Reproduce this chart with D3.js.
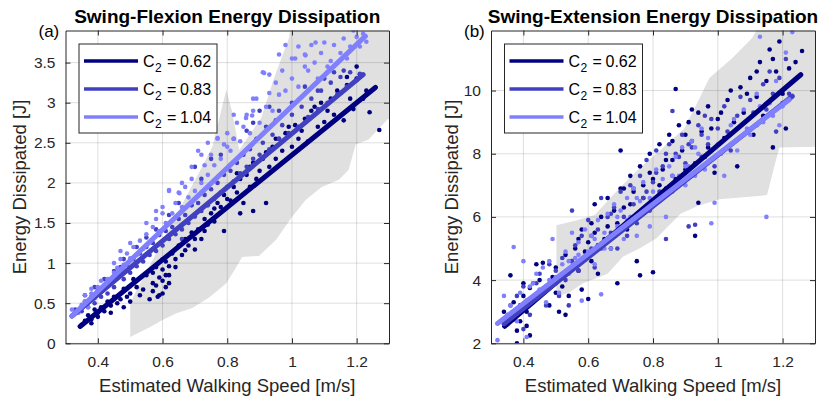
<!DOCTYPE html>
<html>
<head>
<meta charset="utf-8">
<script src="https://cdn.jsdelivr.net/npm/d3@7"></script>
<style>
  body { margin: 0; background: #fff; }
  svg { font-family: "Liberation Sans", Arial, Helvetica, sans-serif; }
</style>
</head>
<body>
<svg id="chart" width="818" height="398"></svg>
<script>

const legendValues = ["0.62", "0.83", "1.04"];
const seriesColors = ["#000080", "#4040c0", "#8080ff"];
const xDomain = [0.3, 1.3];
const xTicks = [0.4, 0.6, 0.8, 1, 1.2];
const flexDomain = [0, 3.9];
const flexTicks = [0, 0.5, 1, 1.5, 2, 2.5, 3, 3.5];
const extDomain = [2, 11.9];
const extTicks = [2, 4, 6, 8, 10];

// grey spread region, [speed, energy]
const flexBand = [[0.50,0.08],[0.50,0.51],[0.668,1.79],[0.714,2.14],[0.754,2.45],[0.797,3.16],[0.815,2.89],[0.837,2.41],[0.905,2.81],[0.945,3.31],[0.991,3.81],[1.006,4.2],[1.35,4.2],[1.35,2.85],[1.295,2.79],[1.237,2.54],[1.197,2.48],[1.175,2.16],[1.145,2.04],[1.092,1.95],[1.043,1.79],[1.0,1.575],[0.951,1.29],[0.898,1.09],[0.846,1.075],[0.822,0.91],[0.797,0.75],[0.745,0.575],[0.692,0.44],[0.643,0.375],[0.60,0.29],[0.56,0.20]];
const extBand = [[0.502,3.47],[0.502,5.74],[0.568,5.90],[0.62,6.06],[0.66,6.5],[0.70,6.95],[0.762,7.58],[0.823,8.12],[0.897,8.81],[0.944,9.76],[0.974,10.4],[1.045,11.03],[1.106,11.66],[1.14,12.3],[1.35,12.3],[1.35,8.23],[1.19,8.2],[1.174,7.58],[1.152,6.69],[1.005,6.56],[0.94,6.35],[0.885,6.1],[0.81,5.32],[0.758,5.0],[0.707,4.74],[0.66,4.2],[0.584,3.9],[0.54,3.6]];

// fitted lines, [start, end]
const flexFitDark = [[0.345,0.21],[1.258,3.19]];
const flexFitMid = [[0.32,0.34],[1.22,3.35]];
const flexFitLight = [[0.32,0.34],[1.227,3.83]];
const extFitDark = [[0.342,2.54],[1.256,10.5]];
const extFitMid = [[0.34,2.62],[1.23,9.82]];
const extFitLight = [[0.32,2.63],[1.22,9.71]];

// scatter points, [speed, energy]
const flexDark = [[0.35,0.23],[0.36,0.28],[0.37,0.35],[0.38,0.30],[0.39,0.42],[0.40,0.33],[0.41,0.45],[0.42,0.40],[0.43,0.52],[0.44,0.47],[0.45,0.58],[0.46,0.50],[0.47,0.55],[0.48,0.68],[0.49,0.58],[0.50,0.62],[0.51,0.80],[0.52,0.70],[0.53,0.60],[0.54,0.67],[0.55,0.85],[0.56,0.55],[0.57,0.65],[0.57,0.88],[0.58,0.72],[0.58,0.95],[0.59,0.60],[0.59,0.82],[0.60,0.78],[0.60,0.92],[0.61,0.70],[0.61,1.02],[0.62,0.85],[0.62,0.96],[0.63,1.12],[0.64,1.05],[0.65,1.22],[0.66,1.10],[0.67,1.16],[0.67,1.30],[0.68,1.22],[0.69,1.38],[0.70,1.17],[0.71,1.42],[0.72,1.30],[0.73,1.55],[0.74,1.48],[0.75,1.62],[0.76,1.52],[0.77,1.75],[0.78,1.70],[0.79,1.40],[0.79,1.85],[0.81,1.78],[0.82,1.95],[0.83,1.88],[0.84,1.62],[0.84,2.05],[0.85,1.75],[0.86,2.10],[0.87,1.95],[0.88,1.65],[0.88,2.25],[0.90,2.15],[0.91,2.30],[0.92,1.75],[0.93,2.20],[0.94,2.45],[0.95,2.30],[0.96,2.55],[0.97,2.40],[0.98,2.62],[1.00,2.45],[1.01,2.72],[1.02,2.55],[1.04,2.80],[1.05,2.52],[1.06,2.90],[1.08,2.70],[1.09,3.00],[1.10,2.76],[1.12,3.05],[1.13,2.85],[1.15,3.12],[1.16,2.78],[1.17,3.22],[1.19,2.92],[1.20,3.30],[1.22,3.05],[1.24,2.88],[1.27,2.66],
  [0.60,0.62],[0.61,0.85],[0.62,0.75],[0.585,0.58],[0.57,0.75],[0.50,0.52],[0.48,0.45],[0.44,0.38],[0.40,0.38],[0.38,0.25],[0.64,0.95],[0.70,1.30],[0.73,1.40],[0.76,1.68],[0.80,1.80],[0.83,2.12],[0.87,2.20],[0.89,2.05],[0.92,2.38],[0.95,2.55],[0.99,2.70],[1.03,2.65],[1.07,2.95],[1.11,2.90],[1.14,3.15],[1.18,3.05],[1.21,3.35],[1.23,3.15],[1.20,3.45],[1.17,3.32]];
const flexMid = [[0.33,0.42],[0.35,0.40],[0.36,0.52],[0.37,0.45],[0.38,0.58],[0.39,0.50],[0.40,0.66],[0.41,0.58],[0.42,0.72],[0.43,0.62],[0.44,0.78],[0.45,0.70],[0.46,0.86],[0.47,0.95],[0.48,0.80],[0.49,0.98],[0.50,0.88],[0.51,1.05],[0.52,0.96],[0.53,1.12],[0.54,1.02],[0.55,1.20],[0.56,1.10],[0.57,1.25],[0.58,1.15],[0.59,1.35],[0.60,1.22],[0.61,1.40],[0.62,1.30],[0.63,1.45],[0.64,1.36],[0.65,1.55],[0.66,1.42],[0.67,1.60],[0.68,1.50],[0.69,1.72],[0.70,1.58],[0.71,1.75],[0.72,1.65],[0.73,1.85],[0.74,1.72],[0.75,1.92],[0.76,1.80],[0.77,2.00],[0.78,1.88],[0.79,2.10],[0.80,1.95],[0.81,2.15],[0.82,2.02],[0.83,2.25],[0.84,2.12],[0.85,2.35],[0.86,2.20],[0.87,2.42],[0.88,2.30],[0.89,2.55],[0.90,2.35],[0.91,2.50],[0.92,2.70],[0.93,2.42],[0.94,2.60],[0.95,2.78],[0.96,2.55],[0.97,2.72],[0.99,2.62],[1.00,2.85],[1.02,2.70],[1.03,2.95],[1.05,2.82],[1.06,3.05],[1.08,2.92],[1.09,3.15],[1.11,3.00],[1.12,3.25],[1.14,3.10],[1.15,3.32],[1.17,3.20],[1.18,3.38],[1.20,3.28],[1.21,3.36],
  [0.70,2.20],[0.72,2.05],[0.75,2.30],[0.78,2.35],[0.82,2.55],[0.86,2.65],[0.88,2.75],[0.90,2.90],[0.93,2.95],[0.96,2.90],[1.00,3.00],[1.04,3.20],[1.08,3.15],[1.10,3.30],[1.13,3.38],[1.16,3.40],[0.65,1.75],[0.62,1.60],[0.58,1.42],[0.55,1.32],[0.52,1.20],[0.48,1.05],[0.45,0.90],[0.42,0.80],[0.39,0.70],[0.36,0.60],[0.60,1.05],[0.66,1.30],[0.74,1.50]];
const flexLight = [[0.32,0.42],[0.34,0.38],[0.35,0.48],[0.36,0.52],[0.37,0.45],[0.38,0.62],[0.39,0.56],[0.40,0.70],[0.41,0.64],[0.42,0.72],[0.43,0.80],[0.44,0.74],[0.45,0.88],[0.46,0.94],[0.47,1.05],[0.48,0.98],[0.49,1.12],[0.50,1.06],[0.51,1.20],[0.52,1.10],[0.53,1.28],[0.54,1.18],[0.55,1.36],[0.56,1.26],[0.57,1.45],[0.58,1.55],[0.59,1.40],[0.60,1.62],[0.61,1.50],[0.62,1.90],[0.63,1.62],[0.64,1.75],[0.65,1.88],[0.66,1.70],[0.67,1.95],[0.68,1.82],[0.69,2.05],[0.70,1.90],[0.71,2.40],[0.72,2.00],[0.73,2.22],[0.74,2.10],[0.75,2.35],[0.76,2.22],[0.77,2.55],[0.78,2.30],[0.79,2.48],[0.80,2.62],[0.81,2.40],[0.82,2.55],[0.83,2.75],[0.84,2.52],[0.85,2.70],[0.86,2.85],[0.87,2.62],[0.88,2.90],[0.89,3.05],[0.90,2.75],[0.91,3.38],[0.92,2.95],[0.93,3.12],[0.94,2.90],[0.95,3.25],[0.96,3.10],[0.97,3.40],[0.98,3.15],[1.00,3.30],[1.01,3.55],[1.02,3.20],[1.04,3.60],[1.05,3.40],[1.06,3.72],[1.07,3.50],[1.09,3.62],[1.10,3.75],[1.11,3.45],[1.13,3.72],[1.15,3.62],[1.16,3.80],[1.18,3.70],[1.20,3.82],[1.22,3.86],[1.23,3.76],
  [0.914,3.37],[1.073,3.75],[1.042,3.59],[0.877,2.84],[0.62,1.91],[0.652,1.87],[0.77,2.56],[0.858,2.81],[0.96,3.60],[0.98,3.72],[1.00,3.55],[1.02,3.70],[1.04,3.45],[0.93,3.35],[0.88,3.05],[0.82,2.85],[0.80,2.45],[0.74,2.50],[0.72,2.35],[0.69,2.20],[0.66,2.00],[0.60,1.70],[0.58,1.65],[0.55,1.50],[0.50,1.25],[0.47,1.15],[0.45,1.00],[0.41,0.78],[0.38,0.68],[0.36,0.60],[1.08,3.30],[1.12,3.52],[1.17,3.55],[1.19,3.90],[1.21,3.70]];

const extDark = [[0.34,3.0],[0.35,2.6],[0.36,4.15],[0.37,3.3],[0.37,2.9],[0.38,2.4],[0.38,2.0],[0.39,3.2],[0.39,2.7],[0.40,3.9],[0.40,3.5],[0.41,2.55],[0.41,3.0],[0.42,3.75],[0.42,2.25],[0.43,3.3],[0.44,4.5],[0.45,3.5],[0.46,4.55],[0.47,3.8],[0.48,3.2],[0.49,4.1],[0.50,3.6],[0.50,4.4],[0.51,3.0],[0.52,4.2],[0.53,2.9],[0.53,4.8],[0.54,3.5],[0.55,4.6],[0.56,5.0],[0.57,4.3],[0.58,5.6],[0.58,3.7],[0.59,4.9],[0.60,3.4],[0.60,5.2],[0.61,4.6],[0.62,6.4],[0.62,5.5],[0.63,4.2],[0.64,6.0],[0.65,5.3],[0.66,6.6],[0.67,5.0],[0.68,6.2],[0.69,3.9],[0.69,5.8],[0.70,8.1],[0.70,6.9],[0.71,6.3],[0.72,5.6],[0.73,7.3],[0.74,6.8],[0.75,4.6],[0.75,6.0],[0.76,7.6],[0.76,4.15],[0.77,7.0],[0.78,6.3],[0.79,8.0],[0.80,4.25],[0.80,7.2],[0.81,6.6],[0.82,8.3],[0.83,7.5],[0.84,6.9],[0.85,8.6],[0.86,7.8],[0.87,10.05],[0.87,7.2],[0.88,8.9],[0.89,8.1],[0.90,7.5],[0.91,9.0],[0.92,8.4],[0.93,7.7],[0.94,6.45],[0.94,9.3],[0.95,8.7],[0.96,7.9],[0.97,9.5],[0.98,8.8],[0.99,7.4],[1.00,9.1],[0.93,5.4],[1.02,8.5],[1.03,9.7],[1.05,9.0],[1.06,7.6],[1.07,10.1],[1.08,9.3],[1.10,10.4],[1.11,8.6],[1.12,9.8],[1.13,10.9],[1.14,9.2],[1.15,10.3],[1.16,11.3],[1.17,8.2],[1.18,10.6],[1.19,11.55],[1.20,9.9],[1.21,8.8],[1.22,10.7],[1.24,10.9],[1.26,11.25],
  [0.45,4.0],[0.52,3.8],[0.57,5.3],[0.61,5.8],[0.63,5.1],[0.66,5.7],[0.68,5.4],[0.71,6.9],[0.73,6.4],[0.77,6.6],[0.79,7.4],[0.82,7.0],[0.84,7.8],[0.86,8.4],[0.90,8.6],[0.92,9.4],[0.97,8.2],[1.01,9.3],[1.04,10.0],[1.09,9.9],[1.12,10.6],[1.17,11.0]];
const extMid = [[0.35,2.85],[0.36,3.2],[0.37,2.75],[0.38,3.5],[0.39,3.0],[0.40,3.8],[0.40,2.45],[0.41,3.35],[0.42,2.9],[0.43,3.9],[0.44,3.4],[0.45,4.2],[0.46,3.7],[0.47,3.2],[0.48,4.5],[0.49,3.9],[0.50,4.3],[0.51,3.5],[0.52,4.7],[0.53,4.0],[0.54,3.2],[0.55,6.2],[0.55,4.6],[0.56,5.1],[0.57,4.3],[0.58,5.4],[0.59,4.7],[0.60,5.9],[0.61,5.0],[0.62,4.4],[0.63,5.6],[0.64,6.6],[0.65,5.2],[0.66,6.0],[0.67,5.5],[0.68,6.3],[0.69,5.0],[0.70,6.8],[0.71,6.0],[0.72,5.4],[0.73,7.0],[0.74,6.4],[0.75,5.8],[0.76,7.3],[0.77,6.6],[0.78,7.8],[0.79,6.2],[0.80,7.1],[0.81,8.1],[0.82,6.8],[0.83,7.6],[0.84,5.3],[0.85,8.3],[0.86,9.35],[0.86,7.3],[0.87,8.0],[0.88,7.0],[0.89,8.6],[0.90,7.7],[0.91,5.7],[0.92,8.2],[0.93,5.75],[0.94,8.9],[0.95,7.9],[0.96,9.2],[0.97,8.3],[0.99,7.6],[1.00,8.8],[1.02,9.5],[1.04,8.1],[1.06,9.2],[1.08,8.6],[1.10,9.7],[1.12,8.9],[1.14,10.2],[1.15,9.4],[1.17,9.9],[1.18,8.7],[1.19,10.4],[1.20,9.6],[1.21,11.0],[1.22,9.9],
  [0.44,3.9],[0.50,3.9],[0.56,4.5],[0.61,5.4],[0.64,5.0],[0.67,6.1],[0.70,5.6],[0.74,6.9],[0.78,6.8],[0.81,7.4],[0.84,8.0],[0.88,7.9],[0.91,8.3],[0.95,8.6],[0.98,9.1],[1.03,8.7],[1.07,9.8],[1.11,9.3],[1.16,10.6]];
const extLight = [[0.32,2.1],[0.34,3.5],[0.35,2.9],[0.36,3.2],[0.37,5.05],[0.38,2.7],[0.39,3.6],[0.40,4.6],[0.40,3.1],[0.41,2.2],[0.42,3.8],[0.43,3.4],[0.44,4.2],[0.45,3.7],[0.46,4.4],[0.47,3.3],[0.48,4.6],[0.49,5.3],[0.50,4.1],[0.51,3.6],[0.52,4.5],[0.53,4.9],[0.54,4.2],[0.55,5.5],[0.56,4.7],[0.57,5.2],[0.58,3.35],[0.59,5.6],[0.60,4.9],[0.61,5.4],[0.62,4.5],[0.63,5.9],[0.64,3.55],[0.65,5.5],[0.66,6.1],[0.67,5.0],[0.68,6.4],[0.69,5.7],[0.70,6.2],[0.71,5.3],[0.72,6.6],[0.73,6.0],[0.74,6.9],[0.75,5.4],[0.76,6.5],[0.77,7.1],[0.78,6.2],[0.79,5.7],[0.80,6.8],[0.81,7.5],[0.82,6.5],[0.83,7.2],[0.84,6.0],[0.85,7.6],[0.86,6.8],[0.87,7.9],[0.88,7.3],[0.89,8.2],[0.90,7.0],[0.91,7.6],[0.92,8.4],[0.93,7.3],[0.94,8.0],[0.95,8.8],[0.96,7.5],[0.98,5.8],[0.99,6.45],[1.00,8.3],[1.02,7.3],[1.04,8.9],[1.06,8.1],[1.08,9.4],[1.10,8.6],[1.12,9.9],[1.14,9.0],[1.15,6.0],[1.16,9.6],[1.18,10.3],[1.19,8.9],[1.20,9.5],[1.21,11.2],[1.22,9.7],[1.23,11.85],[1.13,11.7],
  [0.43,3.9],[0.48,4.0],[0.54,4.6],[0.57,4.8],[0.62,5.3],[0.65,5.0],[0.69,6.0],[0.72,5.9],[0.75,6.6],[0.79,6.6],[0.83,6.7],[0.86,7.3],[0.90,7.6],[0.93,8.2],[0.97,8.5],[1.01,8.0],[1.05,9.1],[1.09,8.8],[1.13,9.5],[1.17,9.2]];

const plotTop = 30.5;
const plotBottom = 343.3;
const axisColor = "#262626";

let svg = d3.select("#chart");

function drawPanel(cfg) {

  let x = d3.scaleLinear().domain(xDomain).range([cfg.left, cfg.right]);
  let y = d3.scaleLinear().domain(cfg.yDomain).range([plotBottom, plotTop]);
  let line = d3.line().x(d => x(d[0])).y(d => y(d[1]));

  svg.append("clipPath").attr("id", "clip-" + cfg.id)
    .append("rect")
    .attr("x", cfg.left).attr("y", plotTop)
    .attr("width", cfg.right - cfg.left).attr("height", plotBottom - plotTop);

  let plot = svg.append("g").attr("clip-path", "url(#clip-" + cfg.id + ")");

  plot.append("path")
    .datum(cfg.band)
    .attr("d", d => line(d) + "Z")
    .attr("fill", "#e0e0e0");

  // grid
  plot.selectAll(".vgrid").data(xTicks).join("line")
    .attr("x1", d => x(d)).attr("x2", d => x(d))
    .attr("y1", plotTop).attr("y2", plotBottom)
    .attr("stroke", axisColor).attr("stroke-opacity", 0.15);
  plot.selectAll(".hgrid").data(cfg.yTicks).join("line")
    .attr("x1", cfg.left).attr("x2", cfg.right)
    .attr("y1", d => y(d)).attr("y2", d => y(d))
    .attr("stroke", axisColor).attr("stroke-opacity", 0.15);

  cfg.points.forEach(function(pts, i) {
    plot.append("g").selectAll("circle").data(pts).join("circle")
      .attr("cx", d => x(d[0]))
      .attr("cy", d => y(d[1]))
      .attr("r", 2.3)
      .attr("fill", seriesColors[i]);
  });

  cfg.fits.forEach(function(f, i) {
    plot.append("path")
      .datum(f)
      .attr("d", line)
      .attr("stroke", seriesColors[i])
      .attr("stroke-width", 5)
      .attr("stroke-linecap", "round")
      .attr("fill", "none");
  });

  // axes, ticks inside on all four sides
  let axes = [
    d3.axisBottom(x).tickValues(xTicks).tickFormat(d => String(d)).tickSizeInner(-5).tickSizeOuter(0).tickPadding(13),
    d3.axisLeft(y).tickValues(cfg.yTicks).tickFormat(d => String(d)).tickSizeInner(-5).tickSizeOuter(0).tickPadding(10),
    d3.axisTop(x).tickValues(xTicks).tickFormat("").tickSizeInner(-5).tickSizeOuter(0),
    d3.axisRight(y).tickValues(cfg.yTicks).tickFormat("").tickSizeInner(-5).tickSizeOuter(0)
  ];
  let shifts = [
    "translate(0," + plotBottom + ")",
    "translate(" + cfg.left + ",0)",
    "translate(0," + plotTop + ")",
    "translate(" + cfg.right + ",0)"
  ];
  axes.forEach(function(a, i) {
    let ga = svg.append("g").attr("transform", shifts[i]).call(a);
    ga.attr("font-family", null).attr("font-size", null);
    ga.select(".domain").attr("stroke", axisColor);
    ga.selectAll(".tick line").attr("stroke", axisColor);
    ga.selectAll(".tick text").attr("fill", axisColor).style("font-size", "15.5px");
  });

  let mid = (cfg.left + cfg.right) / 2;

  svg.append("text")
    .attr("x", mid).attr("y", 23)
    .attr("text-anchor", "middle")
    .style("font-size", "19px").style("font-weight", "bold")
    .attr("fill", "#000")
    .text(cfg.title);

  svg.append("text")
    .attr("x", cfg.left - 27).attr("y", 37)
    .style("font-size", "17px")
    .attr("fill", "#000")
    .text(cfg.tag);

  svg.append("text")
    .attr("x", mid).attr("y", 392)
    .attr("text-anchor", "middle")
    .style("font-size", "18.5px")
    .attr("fill", axisColor)
    .text("Estimated Walking Speed [m/s]");

  svg.append("text")
    .attr("transform", "translate(" + cfg.yLabelX + "," + ((plotTop + plotBottom) / 2) + ") rotate(-90)")
    .attr("text-anchor", "middle")
    .style("font-size", "18.5px")
    .attr("fill", axisColor)
    .text("Energy Dissipated [J]");

  // legend
  let lg = svg.append("g").attr("transform", "translate(" + (cfg.left + 13.5) + ",44)");
  lg.append("rect")
    .attr("width", 138).attr("height", 89)
    .attr("fill", "#fff").attr("stroke", axisColor);
  legendValues.forEach(function(v, i) {
    let ly = 17 + i * 28;
    lg.append("line")
      .attr("x1", 5).attr("x2", 59)
      .attr("y1", ly).attr("y2", ly)
      .attr("stroke", seriesColors[i]).attr("stroke-width", 3.5);
    let t = lg.append("text")
      .attr("y", ly + 5.5)
      .style("font-size", "16px")
      .attr("fill", "#000");
    t.append("tspan").attr("x", 64).text("C");
    t.append("tspan").attr("x", 76).attr("dy", 5).style("font-size", "12px").text("2");
    t.append("tspan").attr("x", 88).attr("dy", -5).text("=");
    t.append("tspan").attr("x", 101).text(v);
  });
}

drawPanel({
  id: "a", tag: "(a)", title: "Swing-Flexion Energy Dissipation",
  left: 65.5, right: 389, yDomain: flexDomain, yTicks: flexTicks, yLabelX: 26,
  band: flexBand,
  points: [flexDark, flexMid, flexLight],
  fits: [flexFitDark, flexFitMid, flexFitLight]
});

drawPanel({
  id: "b", tag: "(b)", title: "Swing-Extension Energy Dissipation",
  left: 491, right: 815, yDomain: extDomain, yTicks: extTicks, yLabelX: 458,
  band: extBand,
  points: [extDark, extMid, extLight],
  fits: [extFitDark, extFitMid, extFitLight]
});

</script>
</body>
</html>
